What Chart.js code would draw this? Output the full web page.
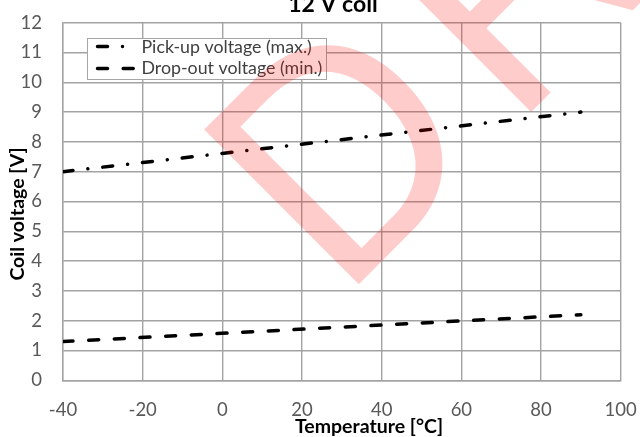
<!DOCTYPE html>
<html>
<head>
<meta charset="utf-8">
<script src="https://cdn.jsdelivr.net/npm/chart.js@4.4.1/dist/chart.umd.min.js"></script>
<style>
  html, body { margin: 0; padding: 0; background: #fff; }
  canvas { display: block; }
</style>
</head>
<body>
<canvas id="chart" width="640" height="437"></canvas>
<script>
// temperature [°C] at the ends of each curve
const temps = [-40, 90];
const pickUp = [7.0, 9.0];
const dropOut = [1.3, 2.2];
const seriesNames = ["Pick-up voltage (max.)", "Drop-out voltage (min.)"];

const titleText = "12 V coil";
const xTitle = "Temperature [°C]";
const yTitle = "Coil voltage [V]";

const gridColor = "#a3a3a3";
const tickColor = "#595959";
const font = "Lato";

function points(ys) {
  return temps.map((t, i) => ({ x: t, y: ys[i] }));
}

// titles, legend box and the DRAFT stamp, drawn on top
const overlay = {
  id: "overlay",
  afterDraw(chart) {
    const ctx = chart.ctx;
    ctx.save();

    // chart title (cut at the top edge, as in the source)
    ctx.fillStyle = "#000";
    ctx.font = "bold 23px " + font;
    ctx.textAlign = "center";
    ctx.textBaseline = "alphabetic";
    ctx.fillText(titleText, 333, 11.7);

    // axis titles
    ctx.font = "bold 19.5px " + font;
    ctx.fillText(xTitle, 369, 433);
    ctx.save();
    ctx.translate(24, 214);
    ctx.rotate(-Math.PI / 2);
    ctx.fillText(yTitle, 0, 0);
    ctx.restore();

    // legend box
    ctx.fillStyle = "#fff";
    ctx.fillRect(87.5, 38.5, 239, 41);
    ctx.strokeStyle = "#a6a6a6";
    ctx.lineWidth = 1;
    ctx.strokeRect(87.5, 38.5, 239, 41);

    ctx.strokeStyle = "#000";
    ctx.lineWidth = 3.5;
    ctx.lineCap = "round";
    ctx.setLineDash([10, 15, 0.01, 15]);
    ctx.beginPath();
    ctx.moveTo(97.5, 46.5);
    ctx.lineTo(124, 46.5);
    ctx.stroke();
    ctx.setLineDash([10, 15.7]);
    ctx.beginPath();
    ctx.moveTo(97.5, 68.5);
    ctx.lineTo(134, 68.5);
    ctx.stroke();
    ctx.setLineDash([]);

    ctx.fillStyle = "#404040";
    ctx.font = "17.8px " + font;
    ctx.textAlign = "left";
    ctx.fillText(seriesNames[0], 141.5, 53.3);
    ctx.fillText(seriesNames[1], 141.5, 74);

    // watermark
    ctx.fillStyle = "rgba(255, 0, 0, 0.2)";
    ctx.font = "318px 'Liberation Sans'";
    ctx.translate(358, 285);
    ctx.rotate(-Math.PI / 4);
    ctx.scale(0.93, 1);
    const mD = ctx.measureText("D");
    ctx.fillText("D", mD.actualBoundingBoxLeft, 0);
    const mR = ctx.measureText("R");
    const rx = 262 + mR.actualBoundingBoxLeft;
    ctx.fillText("R", rx, 0);
    ctx.fillText("AFT", rx + mR.width, 0);

    ctx.restore();
  }
};

new Chart(document.getElementById("chart"), {
  type: "line",
  data: {
    datasets: [
      {
        label: seriesNames[0],
        data: points(pickUp),
        borderColor: "#000",
        borderWidth: 3.5,
        borderDash: [10, 15, 0.01, 15],
        borderCapStyle: "round",
        pointRadius: 0,
        fill: false,
      },
      {
        label: seriesNames[1],
        data: points(dropOut),
        borderColor: "#000",
        borderWidth: 3.5,
        borderDash: [10, 15.7],
        borderCapStyle: "round",
        pointRadius: 0,
        fill: false,
      },
    ],
  },
  options: {
    responsive: false,
    animation: false,
    devicePixelRatio: 1,
    layout: { padding: { top: 22.7, right: 19.3, left: 0, bottom: 0 } },
    plugins: {
      legend: { display: false },
      title: { display: false },
      tooltip: { enabled: false },
    },
    scales: {
      x: {
        type: "linear",
        min: -40,
        max: 100,
        ticks: { stepSize: 20, color: tickColor, font: { family: font, size: 18.5 }, padding: 19, maxRotation: 0 },
        grid: { color: gridColor, lineWidth: 1.4, drawTicks: false },
        border: { color: gridColor, width: 1.4 },
        afterFit: (s) => {
          s.height = 56.7;
          s.paddingLeft = 0;
          s.paddingRight = 0;
        },
      },
      y: {
        min: 0,
        max: 12,
        ticks: { stepSize: 1, color: tickColor, font: { family: font, size: 18.5 }, padding: 21 },
        grid: { color: gridColor, lineWidth: 1.4, drawTicks: false },
        border: { color: gridColor, width: 1.4 },
        afterFit: (s) => {
          s.width = 63;
          s.paddingTop = 0;
          s.paddingBottom = 0;
        },
      },
    },
  },
  plugins: [overlay],
});
</script>
</body>
</html>
